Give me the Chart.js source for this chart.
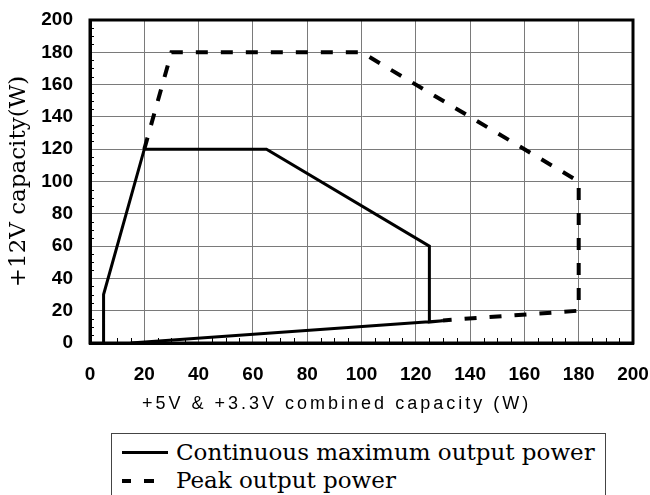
<!DOCTYPE html>
<html>
<head>
<meta charset="utf-8">
<script src="https://cdn.jsdelivr.net/npm/chart.js@4"></script>
<style>
  html, body { margin: 0; padding: 0; background: #fff; }
  body { width: 650px; height: 495px; overflow: hidden; position: relative; }
  #chart { position: absolute; left: 0; top: 0; }
  #xTitle {
    position: absolute; left: 142px; top: 394px;
    font: 18px "Liberation Sans", Arial, sans-serif; line-height: 18px;
    letter-spacing: 3px; color: #000; white-space: nowrap;
  }
  #legend {
    position: absolute; left: 111px; top: 433px; width: 493px; height: 90px;
    border: 1px solid #444; background: #fff;
  }
  .row {
    position: absolute; left: 64px;
    font: 23px "DejaVu Serif", serif; line-height: 28px; color: #000; white-space: nowrap;
  }
  .sample { position: absolute; background: #000; }
</style>
</head>
<body>
<canvas id="chart" width="650" height="495"></canvas>
<div id="xTitle">+5V &amp; +3.3V combined capacity (W)</div>
<div id="legend">
  <div class="sample" style="left:10px; top:17px; width:46px; height:3px;"></div>
  <div class="row" id="leg0" style="top:4px;"></div>
  <div class="sample" style="left:10px; top:45px; width:9px; height:4px;"></div>
  <div class="sample" style="left:32px; top:45px; width:10px; height:4px;"></div>
  <div class="row" id="leg1" style="top:32px;"></div>
</div>
<script>
// series labels
const seriesNames = ['Continuous maximum output power', 'Peak output power'];

// continuous maximum output power (x = +5V&+3.3V W, y = +12V W)
const contX = [5, 5, 20, 65, 125, 125, 130, 15];
const contY = [0, 30, 120, 120, 60, 13, 13.8, 0];

// peak output power
const peakX = [20, 30, 100, 180, 180, 130];
const peakY = [120, 180, 180, 100, 20, 14];

// axis range / ticks
const axisMin = 0;
const axisMax = 200;
const tickStep = 20;
const minorStep = 5;

function toPoints(xs, ys) {
    return xs.map((x, i) => ({ x: x, y: ys[i] }));
}

document.getElementById('leg0').textContent = seriesNames[0];
document.getElementById('leg1').textContent = seriesNames[1];

// outer frame + small inward minor ticks
const framePlugin = {
    id: 'frame',
    afterDraw(chart) {
        const { ctx, chartArea: a, scales } = chart;
        ctx.save();
        ctx.strokeStyle = '#000';
        ctx.lineWidth = 1;
        ctx.beginPath();
        for (let v = axisMin + minorStep; v < axisMax; v += minorStep) {
            if (v % tickStep === 0) continue;
            const px = Math.round(scales.x.getPixelForValue(v)) + 0.5;
            ctx.moveTo(px, a.bottom);
            ctx.lineTo(px, a.bottom - 5);
            const py = Math.round(scales.y.getPixelForValue(v)) + 0.5;
            ctx.moveTo(a.left, py);
            ctx.lineTo(a.left + 4, py);
        }
        ctx.stroke();
        ctx.lineWidth = 3;
        ctx.strokeRect(a.left, a.top, a.right - a.left, a.bottom - a.top);
        ctx.restore();
    }
};

const tickFont = { family: 'Liberation Sans', size: 19, weight: 'bold' };

const ctx = document.getElementById('chart').getContext('2d');
new Chart(ctx, {
    type: 'scatter',
    data: {
        datasets: [{
            label: seriesNames[0],
            data: toPoints(contX, contY),
            showLine: true,
            borderColor: '#000',
            borderWidth: 3,
            pointRadius: 0,
            fill: false
        }, {
            label: seriesNames[1],
            data: toPoints(peakX, peakY),
            showLine: true,
            borderColor: '#000',
            borderWidth: 4,
            borderDash: [12, 13],
            pointRadius: 0,
            fill: false
        }]
    },
    options: {
        responsive: false,
        animation: false,
        layout: { padding: { left: 0, right: 17, top: 20, bottom: 0 } },
        plugins: {
            legend: { display: false },
            tooltip: { enabled: false }
        },
        scales: {
            x: {
                type: 'linear',
                min: axisMin,
                max: axisMax,
                ticks: { stepSize: tickStep, padding: 20, color: '#000', font: tickFont, maxRotation: 0, autoSkip: false },
                grid: { color: '#7a7a7a', lineWidth: 1, drawTicks: false },
                border: { color: '#000', width: 3 },
                afterFit(scale) {
                    scale.height = 152;
                    scale.paddingLeft = 0;
                    scale.paddingRight = 0;
                }
            },
            y: {
                type: 'linear',
                min: axisMin,
                max: axisMax,
                ticks: { stepSize: tickStep, padding: 17, color: '#000', font: tickFont },
                grid: { color: '#7a7a7a', lineWidth: 1, drawTicks: false },
                border: { color: '#000', width: 3 },
                title: {
                    display: true,
                    text: '+12V capacity(W)',
                    color: '#000',
                    font: { family: 'DejaVu Serif', size: 23 },
                    padding: { top: 5, bottom: 0 }
                },
                afterFit(scale) {
                    scale.width = 90;
                    scale.paddingTop = 0;
                    scale.paddingBottom = 0;
                }
            }
        }
    },
    plugins: [framePlugin]
});
</script>
</body>
</html>
